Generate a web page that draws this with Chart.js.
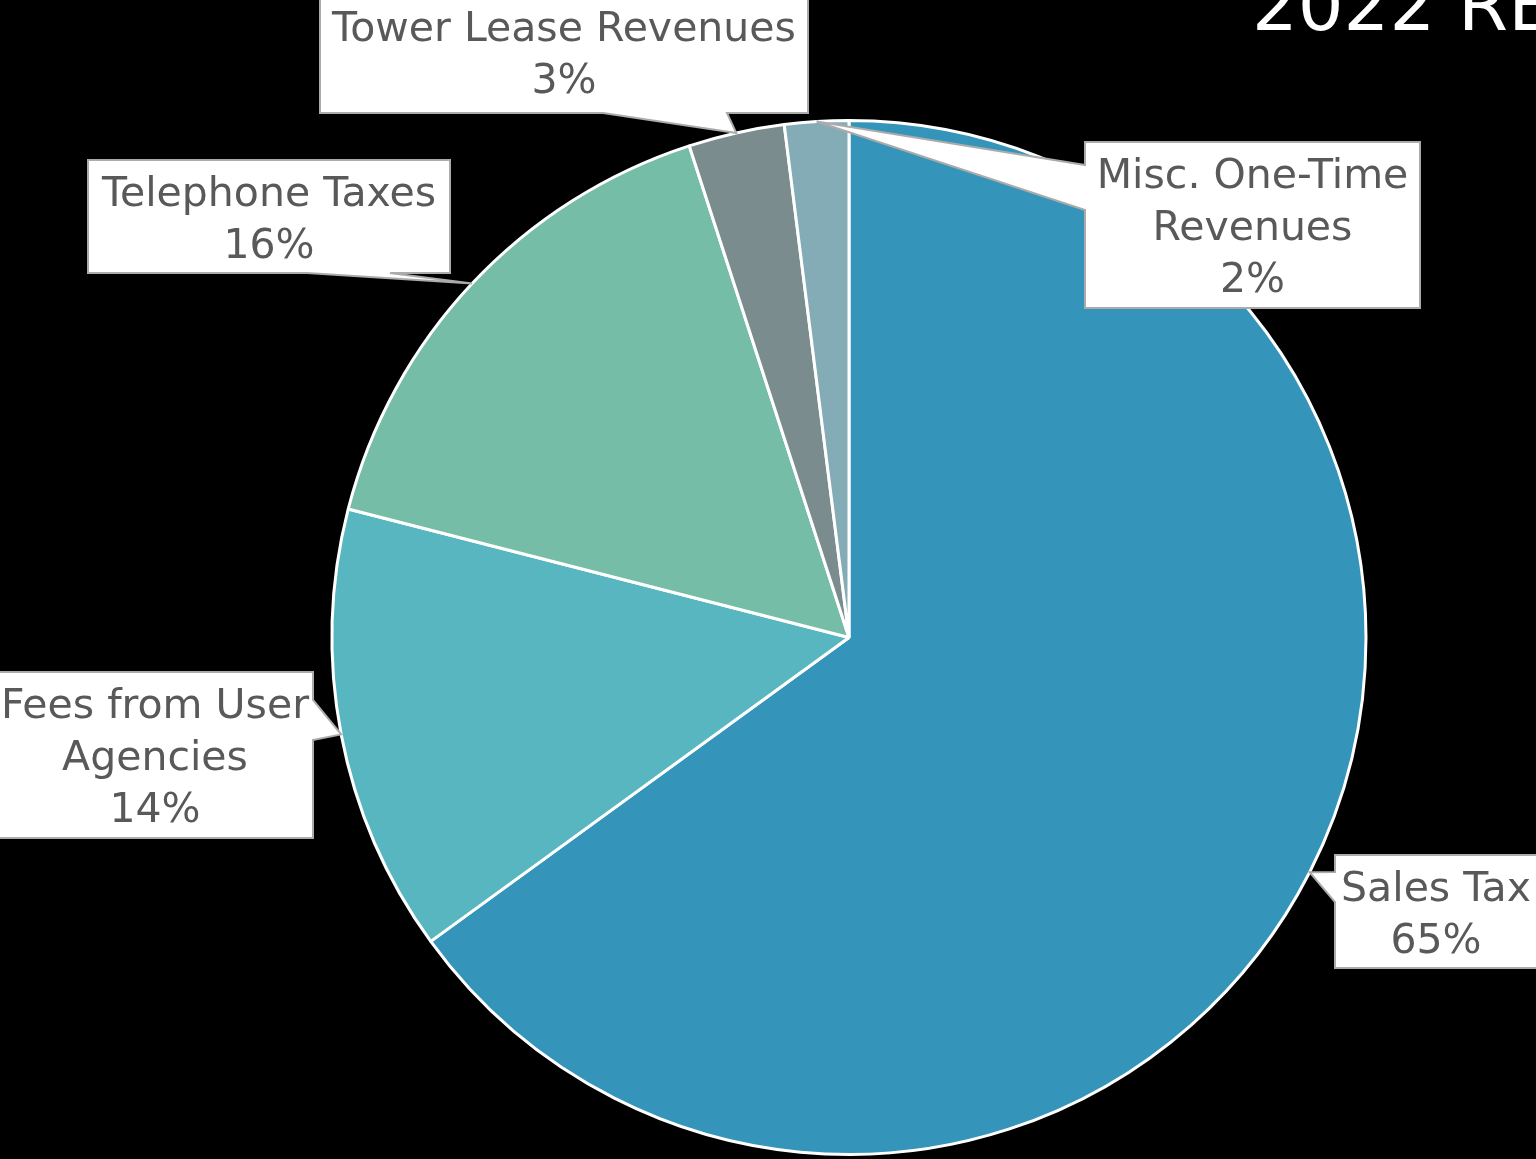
<!DOCTYPE html>
<html>
<head>
<meta charset="utf-8">
<script src="https://cdn.jsdelivr.net/npm/chart.js@4"></script>
<style>
  html, body { margin: 0; padding: 0; background: #000; overflow: hidden; }
  canvas { display: block; }
</style>
</head>
<body>
<canvas id="chart" width="1536" height="1159"></canvas>
<script>
// Revenue sources and their share of the total (percent)
const categories = ['Sales Tax', 'Fees from User Agencies', 'Telephone Taxes', 'Tower Lease Revenues', 'Misc. One-Time Revenues'];
const shares = [65, 14, 16, 3, 2];
// How each category name is broken across lines inside its callout
const labelLines = [
  ['Sales Tax'],
  ['Fees from User', 'Agencies'],
  ['Telephone Taxes'],
  ['Tower Lease Revenues'],
  ['Misc. One-Time', 'Revenues']
];
const sliceColors = ['#3494BA', '#58B6C0', '#75BDA7', '#7A8C8E', '#84ACB6'];
const titleText = '2022 REVENUES';

// Callout boxes: rectangle plus the edge (and span on it) where the pointer leaves the box
const calloutBoxes = [
  { x: 1335, y: 855, w: 202, h: 113, side: 'left',   b0: 872, b1: 902 },
  { x: -3,   y: 672, w: 316, h: 166, side: 'right',  b0: 700, b1: 740 },
  { x: 88,   y: 160, w: 362, h: 113, side: 'bottom', b0: 307, b1: 390 },
  { x: 320,  y: -10, w: 488, h: 123, side: 'bottom', b0: 603, b1: 727 },
  { x: 1085, y: 142, w: 335, h: 166, side: 'left',   b0: 165, b1: 210 }
];

const LABEL_FONT = '41px "DejaVu Sans", sans-serif';
const LINE_HEIGHT = 52;
const CAP_HALF = 15;

const calloutPlugin = {
  id: 'callouts',
  afterDraw(chart) {
    const ctx = chart.ctx;
    const meta = chart.getDatasetMeta(0);

    // title, running off the top-right edge of the canvas
    ctx.save();
    ctx.fillStyle = '#ffffff';
    ctx.font = '72px "DejaVu Sans", sans-serif';
    ctx.textAlign = 'left';
    ctx.textBaseline = 'alphabetic';
    ctx.fillText(titleText, 1252, 30);
    ctx.restore();

    meta.data.forEach((arc, i) => {
      const b = calloutBoxes[i];
      const mid = (arc.startAngle + arc.endAngle) / 2;
      const tx = arc.x + Math.cos(mid) * arc.outerRadius;
      const ty = arc.y + Math.sin(mid) * arc.outerRadius;

      ctx.save();
      ctx.beginPath();
      ctx.moveTo(b.x, b.y);
      ctx.lineTo(b.x + b.w, b.y);
      if (b.side === 'right') {
        ctx.lineTo(b.x + b.w, b.b0);
        ctx.lineTo(tx, ty);
        ctx.lineTo(b.x + b.w, b.b1);
      }
      ctx.lineTo(b.x + b.w, b.y + b.h);
      if (b.side === 'bottom') {
        ctx.lineTo(b.b1, b.y + b.h);
        ctx.lineTo(tx, ty);
        ctx.lineTo(b.b0, b.y + b.h);
      }
      ctx.lineTo(b.x, b.y + b.h);
      if (b.side === 'left') {
        ctx.lineTo(b.x, b.b1);
        ctx.lineTo(tx, ty);
        ctx.lineTo(b.x, b.b0);
      }
      ctx.closePath();
      ctx.fillStyle = '#ffffff';
      ctx.fill();
      ctx.lineWidth = 2;
      ctx.strokeStyle = '#ABABAB';
      ctx.lineJoin = 'miter';
      ctx.stroke();

      const lines = labelLines[i].concat([shares[i] + '%']);
      ctx.fillStyle = '#595959';
      ctx.font = LABEL_FONT;
      ctx.textAlign = 'center';
      ctx.textBaseline = 'alphabetic';
      const cx = b.x + b.w / 2;
      const cy = b.y + b.h / 2;
      lines.forEach((t, k) => {
        const yy = cy + (k - (lines.length - 1) / 2) * LINE_HEIGHT + CAP_HALF;
        ctx.fillText(t, cx, yy);
      });
      ctx.restore();
    });
  }
};

new Chart(document.getElementById('chart'), {
  type: 'pie',
  data: {
    labels: categories,
    datasets: [{
      data: shares,
      backgroundColor: sliceColors,
      borderColor: '#ffffff',
      borderWidth: 3
    }]
  },
  options: {
    responsive: false,
    animation: false,
    devicePixelRatio: 1,
    layout: { padding: { left: 330.5, right: 168.5, top: 119, bottom: 3 } },
    plugins: {
      legend: { display: false },
      tooltip: { enabled: false },
      title: { display: false }
    }
  },
  plugins: [calloutPlugin]
});
</script>
</body>
</html>
